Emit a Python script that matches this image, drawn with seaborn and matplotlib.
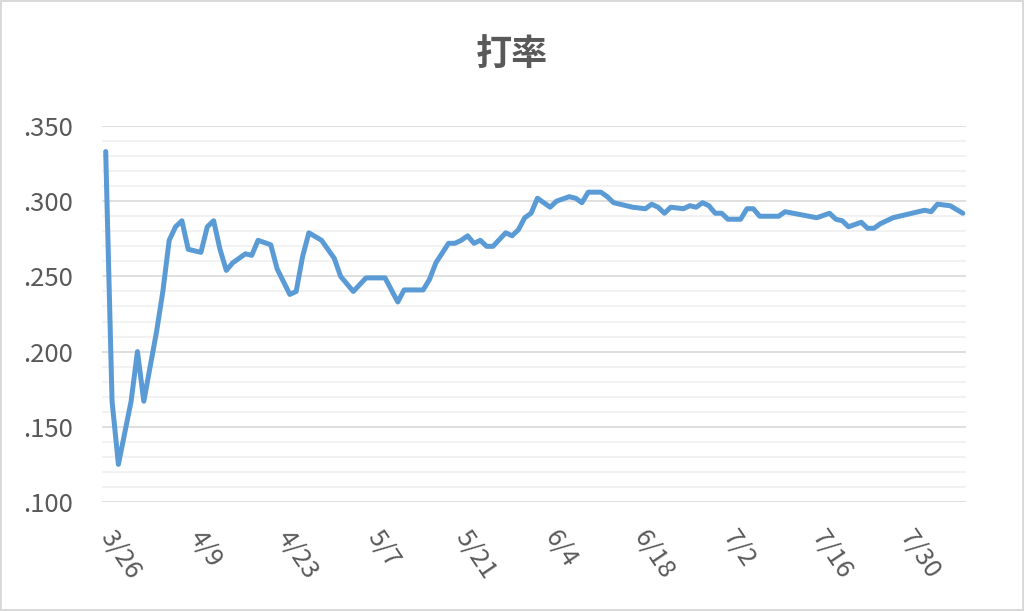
import pandas as pd
import numpy as np
import matplotlib
matplotlib.use("Agg")
import matplotlib.pyplot as plt
from matplotlib.ticker import MultipleLocator, FuncFormatter
import seaborn as sns

# game dates (month/day) and batting average after each game
dates = ["3/26", "3/27", "3/28", "3/30", "3/31", "4/1", "4/3", "4/4", "4/5", "4/6",
         "4/7", "4/8", "4/10", "4/11", "4/12", "4/13", "4/14", "4/15", "4/16", "4/17",
         "4/18", "4/19", "4/21", "4/22", "4/24", "4/25", "4/26", "4/27", "4/29", "5/1",
         "5/2", "5/4", "5/6", "5/9", "5/11", "5/12", "5/15", "5/16", "5/17", "5/19",
         "5/20", "5/21", "5/22", "5/23", "5/24", "5/25", "5/26", "5/28", "5/29", "5/30",
         "5/31", "6/1", "6/2", "6/4", "6/5", "6/7", "6/8", "6/9", "6/10", "6/12",
         "6/13", "6/14", "6/15", "6/17", "6/19", "6/20", "6/21", "6/22", "6/23", "6/25",
         "6/26", "6/27", "6/28", "6/29", "6/30", "7/1", "7/2", "7/4", "7/5", "7/6",
         "7/7", "7/10", "7/11", "7/16", "7/18", "7/19", "7/20", "7/21", "7/23", "7/24",
         "7/25", "7/26", "7/28", "7/30", "7/31", "8/2", "8/3", "8/4", "8/6", "8/8"]
avg = [.333, .167, .125, .167, .200, .167, .213, .240, .274, .283,
       .287, .268, .266, .283, .287, .268, .254, .259, .262, .265,
       .264, .274, .271, .255, .238, .240, .263, .279, .274, .262,
       .250, .240, .249, .249, .233, .241, .241, .248, .259, .272,
       .272, .274, .277, .272, .274, .270, .270, .279, .277, .281,
       .289, .292, .302, .296, .300, .303, .302, .299, .306, .306,
       .303, .299, .298, .296, .295, .298, .296, .292, .296, .295,
       .297, .296, .299, .297, .292, .292, .288, .288, .295, .295,
       .290, .290, .293, .289, .292, .288, .287, .283, .286, .282,
       .282, .285, .289, .291, .292, .294, .293, .298, .297, .292]
year = 2018
title = "打率"

df = pd.DataFrame({"date": pd.to_datetime([f"{year}/{d}" for d in dates], format="%Y/%m/%d"),
                   "avg": avg})

sns.set_theme(style="white")
plt.rcParams['font.family'] = ['Noto Sans CJK JP', 'DejaVu Sans']

fig = plt.figure(figsize=(10.24, 6.11), dpi=100)
fig.patch.set_edgecolor("#D9D9D9")
fig.patch.set_linewidth(1.5)
ax = fig.add_axes([102 / 1024, 1 - 502 / 611, 864 / 1024, 376 / 611])

sns.lineplot(data=df, x="date", y="avg", ax=ax, color="#5B9BD5", linewidth=3.6)

start = df["date"].iloc[0]
end = df["date"].iloc[-1]
ax.set_xlim(start - pd.Timedelta(hours=14), end + pd.Timedelta(hours=12))
ax.set_ylim(0.1, 0.35)

ticks = pd.date_range(start, end, freq="14D")
ax.set_xticks(ticks)
ax.set_xticklabels([f"{t.month}/{t.day}" for t in ticks])
ax.yaxis.set_major_locator(MultipleLocator(0.05))
ax.yaxis.set_minor_locator(MultipleLocator(0.01))
ax.yaxis.set_major_formatter(FuncFormatter(lambda v, p: f"{v:.3f}".lstrip("0")))

ax.grid(axis="y", which="major", color="#D9D9D9", linewidth=1.2)
ax.grid(axis="y", which="minor", color="#F0F0F0", linewidth=1.2)
ax.set_axisbelow(True)
for s in ax.spines.values():
    s.set_visible(False)

ax.tick_params(axis="y", length=0, pad=21, labelsize=18.5, labelcolor="#595959")
ax.tick_params(axis="x", length=0, pad=22, labelsize=18.5, labelcolor="#595959")
for lab in ax.get_xticklabels():
    lab.set_rotation(-56)
    lab.set_rotation_mode("anchor")
    lab.set_ha("left")
    lab.set_va("center")

ax.set_xlabel("")
ax.set_ylabel("")
fig.text(0.5, 1 - 54 / 611, title, ha="center", va="center", fontsize=26,
         fontweight="bold", color="#595959")

fig.savefig("out.png", dpi=100, edgecolor=fig.get_edgecolor())
